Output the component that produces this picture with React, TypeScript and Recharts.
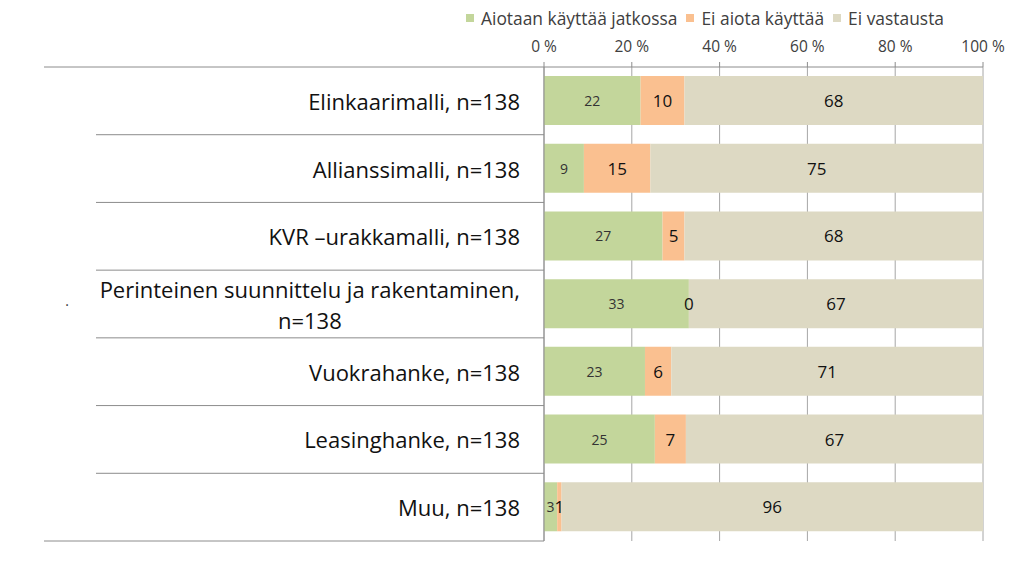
import { BarChart, Bar, XAxis, YAxis, CartesianGrid, Legend, LabelList } from 'recharts';

const categories = [
  'Elinkaarimalli, n=138',
  'Allianssimalli, n=138',
  'KVR –urakkamalli, n=138',
  'Perinteinen suunnittelu ja rakentaminen,\nn=138',
  'Vuokrahanke, n=138',
  'Leasinghanke, n=138',
  'Muu, n=138',
];
const aiotaan = [22, 9, 27, 33, 23, 25, 3];
const eiAiota = [10, 15, 5, 0, 6, 7, 1];
const eiVastausta = [68, 75, 68, 67, 71, 67, 96];
const seriesNames = ['Aiotaan käyttää jatkossa', 'Ei aiota käyttää', 'Ei vastausta'];
const xTicks = [0, 20, 40, 60, 80, 100];

const colors = ['#c3d69b', '#fac090', '#ddd9c3'];
const FONT = '"Open Sans", sans-serif';

const data = categories.map((name, i) => ({
  name,
  aiotaan: aiotaan[i],
  eiAiota: eiAiota[i],
  eiVastausta: eiVastausta[i],
}));

const W = 1024;
const H = 568;
const X_AXIS_H = 30;
const margin = { top: 37, right: 41, bottom: 27, left: 0 };
const Y_AXIS_W = 544;
const ROW_H = (H - margin.top - X_AXIS_H - margin.bottom) / categories.length;
const LINE = '#8c8c8c';

function measure(text: string, size: number) {
  const ctx = document.createElement('canvas').getContext('2d');
  if (!ctx) return text.length * size * 0.5;
  ctx.font = `${size}px ${FONT}`;
  return ctx.measureText(text).width;
}

function CategoryTick(props: any) {
  const { y, payload, index } = props;
  const lines: string[] = String(payload.value).split('\n');
  const size = 22;
  const right = Y_AXIS_W - 24;
  const top = y - ROW_H / 2;
  const bottom = y + ROW_H / 2;
  let textEls;
  if (lines.length === 1) {
    textEls = (
      <text x={right} y={y} textAnchor="end" dominantBaseline="central" fontSize={size} fill="#111" fontFamily={FONT}>
        {lines[0]}
      </text>
    );
  } else {
    const cx = right - measure(lines[0], size) / 2;
    const lh = 31;
    textEls = lines.map((l, k) => (
      <text key={k} x={cx} y={y + (k - (lines.length - 1) / 2) * lh} textAnchor="middle" dominantBaseline="central" fontSize={size} fill="#111" fontFamily={FONT}>
        {l}
      </text>
    ));
  }
  return (
    <g>
      <line x1={index === 0 ? 44 : 96} x2={Y_AXIS_W} y1={top} y2={top} stroke={LINE} strokeWidth={1} />
      {index === categories.length - 1 && (
        <line x1={44} x2={Y_AXIS_W} y1={bottom} y2={bottom} stroke={LINE} strokeWidth={1} />
      )}
      {lines.length > 1 && (
        <text x={67} y={y + 2} textAnchor="middle" fontSize={14} fill="#333" fontFamily={FONT}>.</text>
      )}
      {textEls}
    </g>
  );
}

function LegendContent() {
  return (
    <div style={{ display: 'flex', alignItems: 'center', fontFamily: FONT, fontSize: 17.4, color: '#404040', whiteSpace: 'nowrap' }}>
      {seriesNames.map((n, i) => (
        <span key={n} style={{ display: 'flex', alignItems: 'center', marginRight: 9 }}>
          <span style={{ display: 'inline-block', width: 8, height: 8, background: colors[i], marginRight: 7 }} />
          {n}
        </span>
      ))}
    </div>
  );
}

function SegLabel(props: any) {
  const { x, y, width, height, value, small, atEnd } = props;
  if (atEnd && value !== 0) return null;
  return (
    <text
      x={atEnd ? x + width : x + width / 2}
      y={y + height / 2}
      textAnchor="middle"
      dominantBaseline="central"
      fontSize={small ? 14 : 17}
      fill={small ? '#333' : '#111'}
      fontFamily={FONT}
    >
      {value}
    </text>
  );
}

export default function App() {
  return (
    <div style={{ position: 'absolute', left: 0, top: 0, width: W, height: H, background: '#fff' }}>
      <BarChart width={W} height={H} data={data} layout="vertical" margin={margin} barSize={49} stackOffset="expand">
        <CartesianGrid horizontal={false} vertical stroke="#a6a6a6" />
        <XAxis
          type="number"
          orientation="top"
          domain={[0, 1]}
          ticks={xTicks.map((t) => t / 100)}
          tickFormatter={(v: number) => `${Math.round(v * 100)} %`}
          axisLine={{ stroke: LINE }}
          tickLine={{ stroke: LINE }}
          tickSize={5}
          height={X_AXIS_H}
          tickMargin={10}
          tick={{ fontSize: 15.5, fill: '#404040', fontFamily: FONT }}
          interval={0}
        />
        <YAxis
          type="category"
          dataKey="name"
          width={Y_AXIS_W}
          axisLine={{ stroke: LINE }}
          tickLine={false}
          tick={<CategoryTick />}
          interval={0}
        />
        <Legend
          layout="horizontal"
          verticalAlign="middle"
          align="center"
          content={<LegendContent />}
          wrapperStyle={{ top: 6, left: 466, width: 540, height: 24 }}
        />
        <Bar dataKey="aiotaan" stackId="a" fill={colors[0]} name={seriesNames[0]} isAnimationActive={false}>
          <LabelList dataKey="aiotaan" content={<SegLabel small />} />
          <LabelList dataKey="eiAiota" content={<SegLabel atEnd />} />
        </Bar>
        <Bar dataKey="eiAiota" stackId="a" fill={colors[1]} name={seriesNames[1]} isAnimationActive={false}>
          <LabelList dataKey="eiAiota" content={<SegLabel />} />
        </Bar>
        <Bar dataKey="eiVastausta" stackId="a" fill={colors[2]} name={seriesNames[2]} isAnimationActive={false}>
          <LabelList dataKey="eiVastausta" content={<SegLabel />} />
        </Bar>
      </BarChart>
    </div>
  );
}
